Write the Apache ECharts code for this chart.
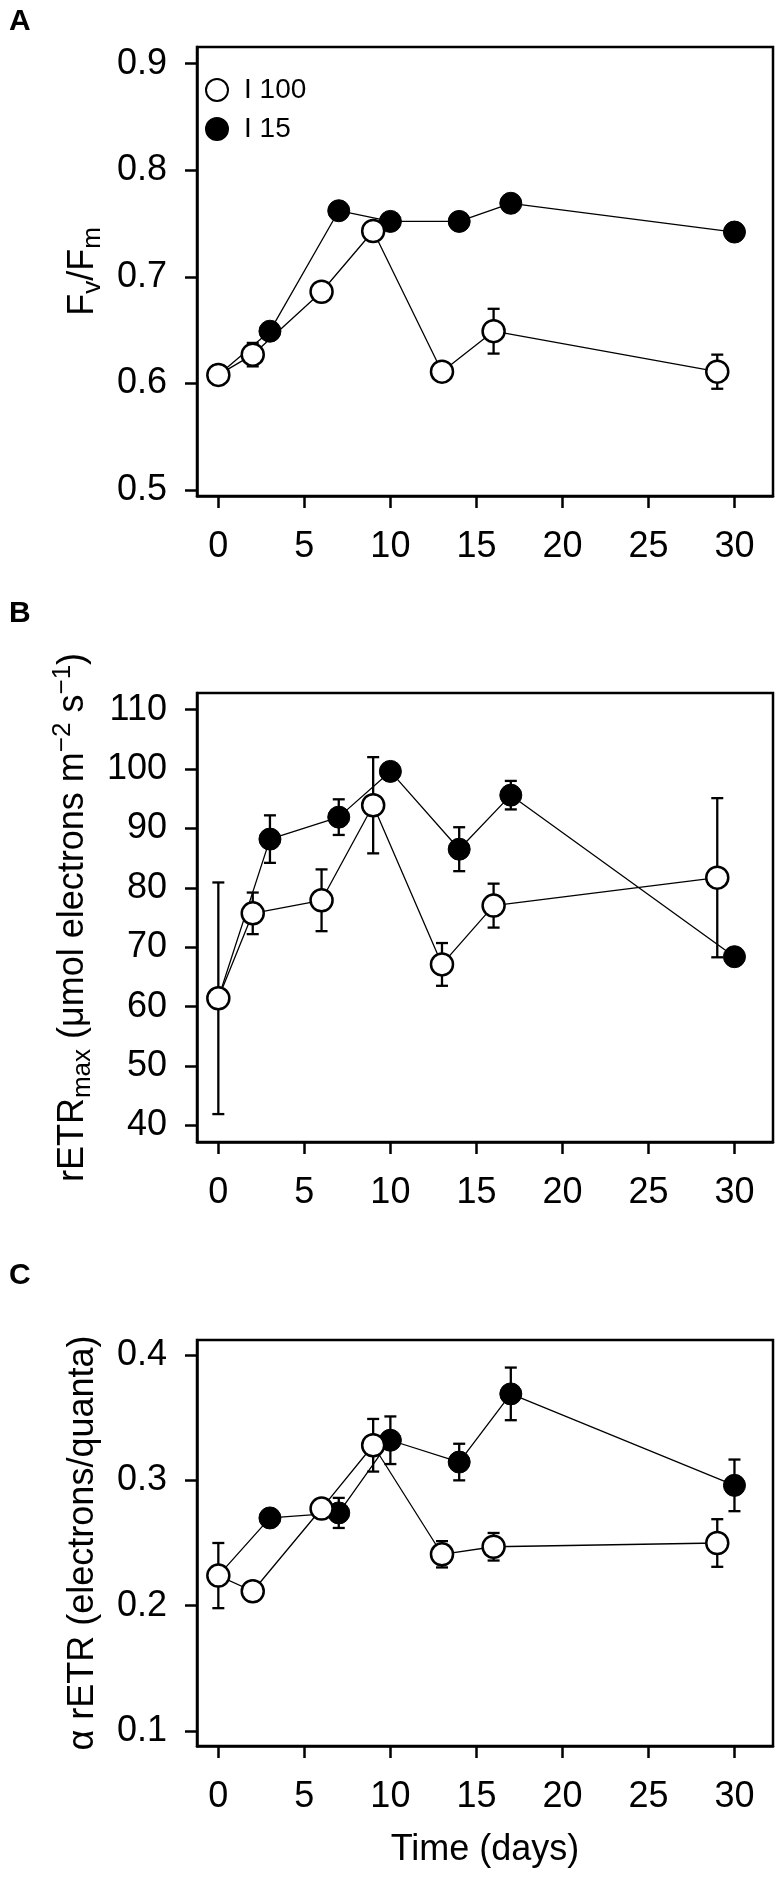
<!DOCTYPE html>
<html>
<head>
<meta charset="utf-8">
<script src="https://cdn.jsdelivr.net/npm/echarts@6/dist/echarts.min.js"></script>
<style>
html,body{margin:0;padding:0;background:#fff;}
#c{width:780px;height:1878px;}
</style>
</head>
<body>
<div id="c"></div>
<script>
// ---- data ----
const dayTicks = [0, 5, 10, 15, 20, 25, 30];
const daysI100 = [0, 2, 6, 9, 13, 16, 29];
const daysI15  = [0, 3, 7, 10, 14, 17, 30];

// Panel A: Fv/Fm
const fvfmTicks   = [0.5, 0.6, 0.7, 0.8, 0.9];
const fvfmI100    = [0.608, 0.627, 0.686, 0.743, 0.611, 0.649, 0.611];
const fvfmI100Se  = [0.009, 0.011, 0, 0, 0, 0.021, 0.016];
const fvfmI15     = [0.608, 0.649, 0.762, 0.752, 0.752, 0.769, 0.742];
const fvfmI15Se   = [0, 0, 0, 0, 0, 0, 0];

// Panel B: rETRmax
const etrTicks    = [40, 50, 60, 70, 80, 90, 100, 110];
const etrI100     = [61.4, 75.7, 77.9, 93.9, 67.1, 77.0, 81.7];
const etrI100Se   = [19.5, 3.5, 5.2, 8.1, 3.6, 3.7, 13.4];
const etrI15      = [61.4, 88.2, 91.9, 99.6, 86.5, 95.6, 68.4];
const etrI15Se    = [0, 4.0, 3.0, 0, 3.7, 2.4, 0];

// Panel C: alpha rETR
const alphaTicks  = [0.1, 0.2, 0.3, 0.4];
const alphaI100   = [0.224, 0.2115, 0.2775, 0.328, 0.241, 0.247, 0.250];
const alphaI100Se = [0.026, 0, 0, 0.021, 0.0105, 0.011, 0.019];
const alphaI15    = [0.224, 0.270, 0.274, 0.332, 0.3146, 0.369, 0.296];
const alphaI15Se  = [0, 0, 0.012, 0.019, 0.0146, 0.021, 0.0206];

// ---- chart ----
const FONT = "'Liberation Sans', Arial, Helvetica, sans-serif";
const chart = echarts.init(document.getElementById('c'), null, {renderer: 'canvas'});

function xAxisFor(gi, withName) {
  const ax = {
    type: 'value', gridIndex: gi, min: -1.24, max: 32.24,
    axisLine: {show: true, onZero: false, lineStyle: {color: '#000', width: 2.5}},
    axisTick: {show: true, inside: false, length: 12, customValues: dayTicks,
               lineStyle: {color: '#000', width: 2.5}},
    axisLabel: {show: true, customValues: dayTicks, margin: 33, fontSize: 36,
                color: '#000', fontFamily: FONT},
    splitLine: {show: false}
  };
  if (withName) {
    ax.name = 'Time (days)';
    ax.nameLocation = 'middle';
    ax.nameGap = 84;
    ax.nameTextStyle = {fontSize: 36, color: '#000', fontFamily: FONT, lineHeight: 40};
  }
  return ax;
}

const richBase = {
  m: {fontSize: 36, lineHeight: 46, color: '#000', fontFamily: FONT},
  s: {fontSize: 26, lineHeight: 26, color: '#000', fontFamily: FONT, verticalAlign: 'bottom'},
  p: {fontSize: 26, lineHeight: 26, color: '#000', fontFamily: FONT, verticalAlign: 'top'}
};

function yAxisFor(gi, min, max, ticks, dec, name, gap) {
  return {
    type: 'value', gridIndex: gi, min: min, max: max,
    axisLine: {show: true, onZero: false, lineStyle: {color: '#000', width: 2.5}},
    axisTick: {show: true, inside: false, length: 12, customValues: ticks,
               lineStyle: {color: '#000', width: 2.5}},
    axisLabel: {show: true, customValues: ticks, margin: 30, fontSize: 36, color: '#000',
                fontFamily: FONT, formatter: v => Number(v).toFixed(dec)},
    splitLine: {show: false},
    name: name, nameLocation: 'middle', nameRotate: 90, nameGap: gap,
    nameTextStyle: {rich: richBase, fontSize: 36, color: '#000', fontFamily: FONT, lineHeight: 46}
  };
}

function errData(days, vals, se) {
  const out = [];
  days.forEach((d, i) => { if (se[i] > 0) out.push([d, vals[i] - se[i], vals[i] + se[i]]); });
  return out;
}

function errSeries(gi, name, days, vals, se, z) {
  return {
    type: 'custom', name: name, xAxisIndex: gi, yAxisIndex: gi, z: z, silent: true,
    data: errData(days, vals, se),
    encode: {x: 0, y: [1, 2]},
    renderItem: function (params, api) {
      const x = api.value(0);
      const lo = api.coord([x, api.value(1)]);
      const hi = api.coord([x, api.value(2)]);
      const w = 6;
      const st = {stroke: '#000', lineWidth: 2.3};
      return {type: 'group', children: [
        {type: 'line', shape: {x1: lo[0], y1: lo[1], x2: hi[0], y2: hi[1]}, style: st},
        {type: 'line', shape: {x1: lo[0] - w, y1: lo[1], x2: lo[0] + w, y2: lo[1]}, style: st},
        {type: 'line', shape: {x1: hi[0] - w, y1: hi[1], x2: hi[0] + w, y2: hi[1]}, style: st}
      ]};
    }
  };
}

function lineSeries(gi, name, days, vals, filled, z, hideFirst) {
  return {
    type: 'line', name: name, xAxisIndex: gi, yAxisIndex: gi, z: z,
    data: days.map((d, i) => (hideFirst && i === 0) ? {value: [d, vals[i]], symbol: 'none'} : [d, vals[i]]),
    symbol: 'circle', symbolSize: 22,
    lineStyle: {color: '#000', width: 1.3},
    itemStyle: {color: filled ? '#000' : '#fff', borderColor: '#000', borderWidth: filled ? 1 : 2.5},
    emphasis: {disabled: true},
    silent: true
  };
}

function panelSeries(gi, v100, se100, v15, se15) {
  return [
    errSeries(gi, 'I 15 error', daysI15, v15, se15, 2),
    lineSeries(gi, 'I 15', daysI15, v15, true, 3, true),
    errSeries(gi, 'I 100 error', daysI100, v100, se100, 4),
    lineSeries(gi, 'I 100', daysI100, v100, false, 5, false)
  ];
}

const letterStyle = {fontSize: 30, fontWeight: 'bold', color: '#000', fontFamily: FONT};

const option = {
  animation: false,
  backgroundColor: '#fff',
  textStyle: {fontFamily: FONT},
  title: [
    {text: 'A', left: 4, top: 2, textStyle: letterStyle},
    {text: 'B', left: 4, top: 594, textStyle: letterStyle},
    {text: 'C', left: 4, top: 1256, textStyle: letterStyle}
  ],
  legend: {
    orient: 'vertical', left: 200, top: 71, itemWidth: 44, itemHeight: 22, itemGap: 11,
    symbolKeepAspect: true,
    data: [{name: 'I 100', icon: 'circle'}, {name: 'I 15', icon: 'circle'}],
    textStyle: {fontSize: 28, color: '#000', fontFamily: FONT},
    selectedMode: false
  },
  grid: [
    {left: 197, top: 47, width: 576, height: 449, show: true, borderColor: '#000', borderWidth: 2.5, backgroundColor: 'transparent'},
    {left: 197, top: 693, width: 576, height: 449, show: true, borderColor: '#000', borderWidth: 2.5, backgroundColor: 'transparent'},
    {left: 197, top: 1340, width: 576, height: 406, show: true, borderColor: '#000', borderWidth: 2.5, backgroundColor: 'transparent'}
  ],
  xAxis: [xAxisFor(0, false), xAxisFor(1, false), xAxisFor(2, true)],
  yAxis: [
    yAxisFor(0, 0.4944, 0.9156, fvfmTicks, 1, '{m|F}{s|v}{m|/F}{s|m}', 86),
    yAxisFor(1, 37.2, 112.8, etrTicks, 0, '{m|rETR}{s|max}{m| (μmol electrons m}{p|−2}{m| s}{p|−1}{m|)}', 90),
    yAxisFor(2, 0.088, 0.412, alphaTicks, 1, '{m|α rETR (electrons/quanta)}', 86)
  ],
  series: [].concat(
    panelSeries(0, fvfmI100, fvfmI100Se, fvfmI15, fvfmI15Se),
    panelSeries(1, etrI100, etrI100Se, etrI15, etrI15Se),
    panelSeries(2, alphaI100, alphaI100Se, alphaI15, alphaI15Se)
  )
};
chart.setOption(option);
</script>
</body>
</html>
